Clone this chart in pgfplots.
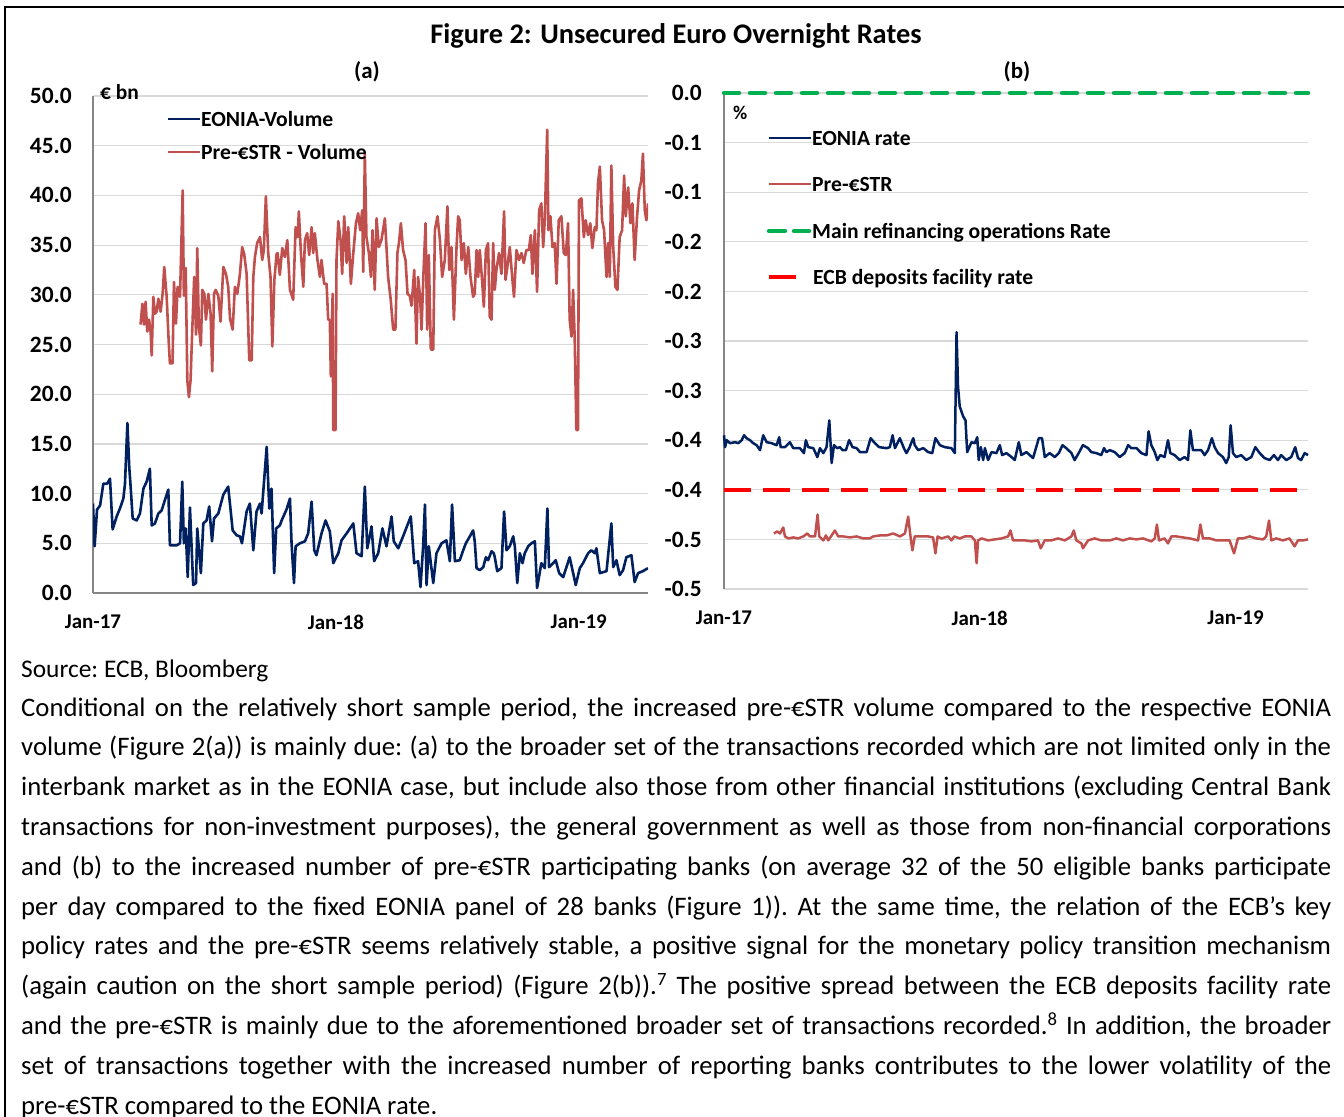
\documentclass[border=0pt]{standalone}
\usepackage{pgfplots}
\pgfplotsset{compat=1.18}
\usepackage{fontspec}
\setmainfont{Carlito}
\definecolor{eonia}{RGB}{0,32,96}
\definecolor{estr}{RGB}{192,80,77}
\definecolor{mro}{RGB}{0,176,80}
\definecolor{dfr}{RGB}{255,0,0}
\definecolor{gridc}{RGB}{217,217,217}
\definecolor{axisc}{RGB}{134,134,134}

\pgfplotstableread{
m v
0.00 9.0
0.08 4.7
0.20 8.4
0.35 8.8
0.51 11.0
0.70 11.0
0.84 11.5
0.97 6.4
1.17 7.7
1.33 8.5
1.50 9.5
1.58 11.0
1.70 17.1
1.79 12.7
1.86 10.7
1.96 7.5
2.16 7.3
2.32 8.0
2.49 10.5
2.65 11.2
2.81 12.5
2.90 6.8
3.06 7.0
3.23 8.0
3.39 8.3
3.56 9.4
3.72 10.4
3.80 4.8
4.13 4.8
4.30 5.0
4.41 11.2
4.49 5.0
4.58 6.5
4.68 1.6
4.79 8.6
4.95 0.8
5.09 1.0
5.15 6.5
5.33 2.0
5.45 7.0
5.61 7.3
5.74 8.7
5.88 5.2
5.98 7.5
6.19 8.0
6.44 9.9
6.68 10.7
6.90 6.3
7.10 5.8
7.26 5.7
7.36 5.0
7.59 8.2
7.75 9.0
7.92 4.3
8.08 8.2
8.25 9.0
8.33 8.0
8.58 14.7
8.71 8.5
8.82 10.5
8.95 2.0
9.05 6.5
9.23 6.8
9.32 7.3
9.56 8.4
9.73 9.5
9.81 5.0
9.93 1.0
10.01 4.7
10.22 5.0
10.47 5.2
10.63 6.0
10.80 9.2
10.93 4.3
11.04 3.8
11.29 6.0
11.49 7.3
11.70 6.2
11.87 3.0
12.12 4.0
12.28 5.3
12.53 6.0
12.86 7.0
13.02 4.0
13.27 3.7
13.43 10.7
13.55 4.5
13.68 5.8
13.76 6.7
13.89 3.2
14.09 4.0
14.30 6.5
14.50 4.7
14.75 7.7
14.86 5.2
15.08 4.5
15.32 5.7
15.70 7.7
15.87 3.0
16.06 3.2
16.18 0.6
16.31 4.7
16.40 8.9
16.48 0.8
16.59 4.7
16.81 1.0
16.97 4.0
17.22 5.0
17.46 5.3
17.63 3.2
17.74 8.9
17.88 3.2
18.12 3.3
18.29 4.3
18.42 5.0
18.62 5.7
18.78 6.3
18.86 5.2
18.95 2.5
19.11 2.3
19.28 2.6
19.41 3.6
19.52 3.3
19.69 4.2
19.80 4.0
19.85 3.6
19.97 2.2
20.18 2.5
20.31 8.2
20.43 4.3
20.59 4.7
20.76 5.7
20.84 4.7
20.96 1.0
21.09 4.0
21.22 3.0
21.33 4.0
21.50 4.7
21.66 5.0
21.83 5.2
21.94 0.5
22.15 3.0
22.32 2.5
22.45 8.5
22.53 2.6
22.73 3.0
22.86 3.3
23.03 2.0
23.23 1.6
23.55 3.6
23.85 0.8
24.05 2.5
24.21 3.0
24.46 4.0
24.62 4.3
24.79 4.0
24.87 4.5
25.04 2.0
25.37 2.2
25.61 7.0
25.70 2.6
25.86 3.3
26.02 1.8
26.19 2.3
26.35 3.6
26.60 3.8
26.76 1.1
26.93 2.0
27.17 2.2
27.42 2.5
}\eoniavol

\pgfplotstableread{
m v
2.35 27.0
2.44 29.1
2.52 27.0
2.60 29.3
2.68 26.3
2.77 27.5
2.85 26.2
2.90 23.9
2.98 29.8
3.06 28.1
3.14 28.3
3.23 29.6
3.34 28.3
3.44 30.1
3.52 32.8
3.64 29.8
3.74 25.3
3.80 23.1
3.93 23.1
4.00 31.3
4.10 27.1
4.18 30.8
4.30 29.8
4.43 40.5
4.49 29.9
4.58 32.7
4.66 21.4
4.74 19.7
4.82 21.4
4.91 26.8
5.00 31.8
5.09 26.0
5.15 34.7
5.23 26.8
5.33 24.9
5.40 30.5
5.50 30.1
5.58 27.5
5.70 30.1
5.81 28.1
5.89 22.3
5.98 30.1
6.06 30.5
6.19 29.9
6.30 27.3
6.44 32.8
6.57 32.1
6.68 30.8
6.77 27.6
6.90 26.5
7.01 30.8
7.13 30.1
7.26 32.1
7.37 34.8
7.47 34.1
7.59 32.1
7.72 23.4
7.84 23.4
7.92 31.8
8.00 33.8
8.11 35.2
8.25 35.8
8.36 33.5
8.44 34.5
8.54 39.9
8.66 34.1
8.77 31.8
8.86 24.8
8.96 31.5
9.07 34.1
9.12 34.2
9.23 32.0
9.35 34.7
9.48 33.8
9.60 35.5
9.73 30.5
9.89 29.5
10.01 36.8
10.11 35.8
10.17 38.4
10.27 34.3
10.39 30.8
10.47 35.5
10.58 36.2
10.68 34.0
10.80 36.8
10.88 34.2
10.96 36.2
11.09 33.5
11.21 31.8
11.29 33.5
11.42 31.1
11.54 31.1
11.62 27.5
11.70 27.5
11.75 21.8
11.84 30.1
11.87 16.4
11.98 16.4
12.03 33.5
12.12 37.4
12.23 35.5
12.31 32.1
12.41 37.9
12.53 33.2
12.61 36.8
12.74 31.1
12.86 34.2
12.99 37.2
13.10 38.2
13.20 36.5
13.30 38.5
13.35 32.3
13.43 44.1
13.51 35.8
13.63 34.2
13.73 31.8
13.81 36.5
13.92 30.5
14.01 37.7
14.12 34.8
14.25 35.5
14.42 37.7
14.58 31.8
14.71 29.5
14.83 26.5
14.94 26.5
15.04 34.2
15.12 35.3
15.21 37.2
15.32 34.5
15.44 33.5
15.54 30.1
15.65 29.9
15.74 28.9
15.87 32.5
15.98 25.1
16.06 31.8
16.16 29.8
16.23 26.5
16.33 32.3
16.43 37.2
16.51 26.5
16.59 34.0
16.69 24.5
16.81 24.5
16.89 36.5
17.02 37.9
17.14 35.5
17.25 31.8
17.38 33.5
17.51 38.9
17.60 32.5
17.71 34.8
17.83 27.5
17.96 34.8
18.04 37.9
18.12 37.5
18.21 33.5
18.32 35.2
18.42 32.1
18.54 34.8
18.65 31.8
18.78 29.8
18.86 30.1
18.95 34.5
19.03 31.8
19.11 34.5
19.21 31.8
19.31 28.8
19.41 34.5
19.52 35.2
19.60 27.8
19.69 27.5
19.77 35.2
19.85 30.5
19.93 32.5
20.06 34.2
20.18 32.1
20.31 38.4
20.38 31.5
20.47 32.8
20.59 34.8
20.71 31.8
20.80 29.8
20.92 34.5
21.05 33.5
21.17 34.2
21.28 33.2
21.41 34.5
21.53 34.5
21.63 36.0
21.71 32.1
21.83 36.5
21.94 30.3
22.04 38.5
22.15 39.2
22.24 34.8
22.32 37.5
22.44 46.6
22.50 36.5
22.60 37.9
22.70 34.8
22.81 35.2
22.90 31.1
23.01 37.5
23.14 37.9
23.26 34.2
23.36 34.0
23.47 37.2
23.55 27.5
23.64 25.8
23.72 30.5
23.80 25.5
23.88 16.4
23.96 16.4
24.01 39.5
24.13 39.7
24.25 35.8
24.34 37.5
24.46 36.0
24.57 37.2
24.67 34.7
24.79 36.8
24.87 36.5
24.95 41.2
25.04 42.9
25.15 37.5
25.25 36.5
25.37 31.8
25.45 35.2
25.53 31.8
25.61 43.0
25.70 34.8
25.81 30.8
25.91 30.5
26.02 35.8
26.14 36.5
26.24 42.0
26.32 37.9
26.44 40.8
26.55 37.2
26.65 39.2
26.76 33.5
26.88 37.9
26.98 40.5
27.09 41.5
27.17 44.2
27.26 38.5
27.34 37.5
27.42 39.2
}\estrvol

\pgfplotstableread{
m v
0.00 -0.345
0.05 -0.357
0.13 -0.350
0.28 -0.353
0.52 -0.352
0.67 -0.353
0.83 -0.350
0.94 -0.345
1.06 -0.348
1.22 -0.350
1.37 -0.353
1.53 -0.355
1.69 -0.360
1.84 -0.345
2.00 -0.352
2.23 -0.353
2.47 -0.355
2.59 -0.347
2.66 -0.357
2.86 -0.357
3.09 -0.352
3.25 -0.358
3.56 -0.358
3.75 -0.363
3.84 -0.350
3.95 -0.357
4.19 -0.358
4.38 -0.367
4.50 -0.358
4.66 -0.363
4.81 -0.357
4.94 -0.330
5.05 -0.373
5.16 -0.355
5.31 -0.358
5.44 -0.357
5.56 -0.360
5.72 -0.360
5.87 -0.350
6.03 -0.357
6.22 -0.358
6.38 -0.362
6.69 -0.362
6.88 -0.348
7.08 -0.353
7.28 -0.357
7.63 -0.358
7.78 -0.357
7.91 -0.345
8.02 -0.358
8.25 -0.348
8.44 -0.358
8.56 -0.363
8.69 -0.358
8.80 -0.352
8.88 -0.348
8.95 -0.355
9.11 -0.360
9.35 -0.358
9.58 -0.362
9.77 -0.363
9.92 -0.348
10.13 -0.355
10.36 -0.357
10.67 -0.358
10.83 -0.363
10.91 -0.241
10.98 -0.296
11.06 -0.316
11.22 -0.326
11.33 -0.330
11.41 -0.362
11.49 -0.358
11.61 -0.352
11.77 -0.353
11.88 -0.347
11.95 -0.370
12.05 -0.357
12.16 -0.370
12.24 -0.358
12.39 -0.370
12.55 -0.362
12.78 -0.363
12.94 -0.355
13.05 -0.365
13.25 -0.363
13.49 -0.367
13.64 -0.370
13.83 -0.352
13.95 -0.365
14.19 -0.362
14.50 -0.368
14.77 -0.348
14.92 -0.348
15.05 -0.367
15.28 -0.363
15.52 -0.367
15.71 -0.363
15.88 -0.355
16.06 -0.358
16.30 -0.363
16.45 -0.370
16.64 -0.363
16.84 -0.355
17.08 -0.358
17.23 -0.362
17.47 -0.363
17.70 -0.365
17.83 -0.358
17.94 -0.362
18.10 -0.360
18.33 -0.362
18.56 -0.367
18.80 -0.363
18.96 -0.355
19.11 -0.358
19.35 -0.358
19.58 -0.363
19.82 -0.365
19.92 -0.341
20.05 -0.355
20.21 -0.362
20.33 -0.370
20.47 -0.365
20.67 -0.367
20.83 -0.350
20.94 -0.363
21.14 -0.365
21.38 -0.370
21.61 -0.367
21.77 -0.370
21.88 -0.340
22.00 -0.360
22.24 -0.360
22.39 -0.360
22.55 -0.365
22.71 -0.360
22.89 -0.348
23.02 -0.357
23.18 -0.363
23.41 -0.367
23.56 -0.373
23.68 -0.367
23.77 -0.335
23.88 -0.363
24.03 -0.367
24.27 -0.365
24.50 -0.370
24.74 -0.367
24.93 -0.357
25.13 -0.363
25.36 -0.368
25.60 -0.370
25.80 -0.365
25.99 -0.370
26.14 -0.365
26.38 -0.370
26.61 -0.367
26.80 -0.357
26.93 -0.368
27.08 -0.370
27.24 -0.363
27.40 -0.365
}\eoniarate

\pgfplotstableread{
m v
2.34 -0.444
2.50 -0.442
2.63 -0.444
2.70 -0.441
2.78 -0.438
2.86 -0.447
3.02 -0.449
3.25 -0.448
3.48 -0.449
3.72 -0.447
3.91 -0.444
4.03 -0.447
4.27 -0.447
4.39 -0.425
4.47 -0.447
4.66 -0.451
4.78 -0.446
4.89 -0.451
5.05 -0.446
5.20 -0.441
5.36 -0.447
5.59 -0.447
5.91 -0.448
6.22 -0.447
6.53 -0.449
6.84 -0.449
7.00 -0.447
7.31 -0.446
7.63 -0.446
7.94 -0.444
8.25 -0.447
8.49 -0.444
8.64 -0.427
8.75 -0.447
8.84 -0.461
8.95 -0.447
9.27 -0.447
9.58 -0.447
9.81 -0.448
9.92 -0.464
10.02 -0.447
10.20 -0.449
10.52 -0.447
10.67 -0.451
10.80 -0.447
11.06 -0.449
11.30 -0.447
11.45 -0.447
11.61 -0.447
11.77 -0.451
11.85 -0.474
11.92 -0.451
12.08 -0.449
12.39 -0.451
12.70 -0.450
13.02 -0.449
13.33 -0.447
13.44 -0.441
13.56 -0.451
13.80 -0.451
14.11 -0.451
14.42 -0.452
14.73 -0.451
14.86 -0.459
15.05 -0.451
15.36 -0.451
15.67 -0.449
15.99 -0.451
16.30 -0.447
16.41 -0.441
16.53 -0.451
16.77 -0.454
16.84 -0.459
17.08 -0.451
17.39 -0.449
17.70 -0.451
18.10 -0.451
18.41 -0.449
18.72 -0.451
19.03 -0.449
19.35 -0.450
19.66 -0.449
20.05 -0.452
20.21 -0.449
20.31 -0.435
20.41 -0.451
20.67 -0.449
20.83 -0.454
20.99 -0.447
21.22 -0.447
21.53 -0.448
21.85 -0.449
22.24 -0.451
22.35 -0.435
22.47 -0.449
22.79 -0.449
23.10 -0.451
23.41 -0.451
23.72 -0.451
23.93 -0.464
24.11 -0.449
24.35 -0.449
24.66 -0.447
24.97 -0.449
25.29 -0.450
25.44 -0.447
25.57 -0.431
25.68 -0.451
25.91 -0.449
26.22 -0.451
26.53 -0.449
26.77 -0.457
26.93 -0.451
27.17 -0.451
27.40 -0.450
}\estrrate

\newcommand{\pline}[2]{\node[anchor=base west, inner sep=0pt] at (21,#1) {\fontsize{26.8}{30}\selectfont\frenchspacing\makebox[1310bp][s]{#2}};}

\begin{document}
\begin{tikzpicture}
\useasboundingbox (0,0) rectangle (1344bp,-1117bp);
\begin{scope}[x=1bp,y=-1bp]
\draw[line width=2bp] (5,1140) -- (5,7) -- (1360,7);
\end{scope}

% Panel (a)
\begin{axis}[
  at={(93bp,-593bp)}, anchor=south west,
  scale only axis, width=555bp, height=497bp,
  xmin=0, xmax=27.42, ymin=0, ymax=50,
  axis x line*=bottom, axis y line*=left,
  axis line style={draw=axisc, line width=1.3bp},
  major tick length=0pt,
  ytick={0,5,...,50},
  yticklabels={0.0,5.0,10.0,15.0,20.0,25.0,30.0,35.0,40.0,45.0,50.0},
  xtick={0,12,24},
  xticklabels={Jan-17,Jan-18,Jan-19},
  ymajorgrids, major grid style={draw=gridc, line width=1.2bp},
  yticklabel style={font=\fontsize{23.5}{27}\selectfont\bfseries, inner sep=0pt, anchor=east, xshift=-21bp},
  xticklabel style={font=\fontsize{21}{25}\selectfont\bfseries, inner sep=0pt, anchor=north, yshift=-22bp},
]
\addplot[eonia, line width=2.6bp, line join=round] table[x=m,y=v] {\eoniavol};
\addplot[estr, line width=2.6bp, line join=round] table[x=m,y=v] {\estrvol};
\end{axis}

% Panel (b)
\begin{axis}[
  at={(724bp,-589bp)}, anchor=south west,
  scale only axis, width=584bp, height=496bp,
  xmin=0, xmax=27.4, ymin=-0.5, ymax=0,
  clip=false,
  axis x line*=bottom, axis y line*=left,
  y axis line style={draw=axisc, line width=1.3bp},
  x axis line style={draw=gridc, line width=1.2bp},
  major tick length=0pt,
  ytick={-0.5,-0.45,...,0.01},
  yticklabels={-0.5,-0.5,-0.4,-0.4,-0.3,-0.3,-0.2,-0.2,-0.1,-0.1,0.0},
  xtick={0,12,24},
  xticklabels={Jan-17,Jan-18,Jan-19},
  ymajorgrids, major grid style={draw=gridc, line width=1.2bp},
  yticklabel style={font=\fontsize{23.5}{27}\selectfont\bfseries, inner sep=0pt, anchor=east, xshift=-22bp},
  xticklabel style={font=\fontsize{21}{25}\selectfont\bfseries, inner sep=0pt, anchor=north, yshift=-22bp},
]
\addplot[mro, line width=4.5bp, line cap=round, dash pattern=on 15bp off 11bp] coordinates {(0,0) (27.4,0)};
\addplot[dfr, line width=4bp, dash pattern=on 27bp off 12bp] coordinates {(0,-0.4) (27.4,-0.4)};
\addplot[eonia, line width=2.5bp, line join=round] table[x=m,y=v] {\eoniarate};
\addplot[estr, line width=2.5bp, line join=round] table[x=m,y=v] {\estrrate};
\end{axis}

\begin{scope}[x=1bp,y=-1bp]
% titles
\node[anchor=base, inner sep=0pt, font=\fontsize{28.5}{32}\selectfont\bfseries] at (676,43) {Figure 2: Unsecured Euro Overnight Rates};
\node[anchor=center, inner sep=0pt, font=\fontsize{23}{27}\selectfont\bfseries] at (367,72) {(a)};
\node[anchor=center, inner sep=0pt, font=\fontsize{23}{27}\selectfont\bfseries] at (1017,72) {(b)};
\node[anchor=base west, inner sep=0pt, font=\fontsize{21.5}{25}\selectfont\bfseries] at (100,99) {€ bn};
\node[anchor=base west, inner sep=0pt, font=\fontsize{19.5}{23}\selectfont\bfseries] at (733,119) {\%};
% legend (a)
\draw[eonia, line width=2.6bp] (168,119) -- (200,119);
\node[anchor=base west, inner sep=0pt, font=\fontsize{21.7}{25}\selectfont\bfseries] at (201,126) {EONIA-Volume};
\draw[estr, line width=2.6bp] (168,152) -- (200,152);
\node[anchor=base west, inner sep=0pt, font=\fontsize{21.7}{25}\selectfont\bfseries] at (201,159) {Pre-€STR - Volume};
% legend (b)
\draw[eonia, line width=2.5bp] (769,138) -- (811,138);
\node[anchor=base west, inner sep=0pt, font=\fontsize{21.7}{25}\selectfont\bfseries] at (812,145) {EONIA rate};
\draw[estr, line width=2.5bp] (769,184) -- (811,184);
\node[anchor=base west, inner sep=0pt, font=\fontsize{21.7}{25}\selectfont\bfseries] at (812,191) {Pre-€STR};
\draw[mro, line width=4.5bp, line cap=round] (769,231) -- (785,231);
\draw[mro, line width=4.5bp, line cap=round] (794,231) -- (809,231);
\node[anchor=base west, inner sep=0pt, font=\fontsize{21.7}{25}\selectfont\bfseries] at (812,238) {Main refinancing operations Rate};
\draw[dfr, line width=4bp] (769,277) -- (796,277);
\node[anchor=base west, inner sep=0pt, font=\fontsize{21.7}{25}\selectfont\bfseries] at (813,284) {ECB deposits facility rate};
% source and text
\node[anchor=base west, inner sep=0pt, font=\fontsize{25.5}{30}\selectfont\frenchspacing] at (21,677) {Source: ECB, Bloomberg};
\pline{716}{Conditional on the relatively short sample period, the increased pre-€STR volume compared to the respective EONIA}
\pline{755.8}{volume (Figure 2(a)) is mainly due: (a) to the broader set of the transactions recorded which are not limited only in the}
\pline{795.6}{interbank market as in the EONIA case, but include also those from other financial institutions (excluding Central Bank}
\pline{835.4}{transactions for non-investment purposes), the general government as well as those from non-financial corporations}
\pline{875.2}{and (b) to the increased number of pre-€STR participating banks (on average 32 of the 50 eligible banks participate}
\pline{915}{per day compared to the fixed EONIA panel of 28 banks (Figure 1)). At the same time, the relation of the ECB’s key}
\pline{954.8}{policy rates and the pre-€STR seems relatively stable, a positive signal for the monetary policy transition mechanism}
\pline{994.6}{(again caution on the short sample period) (Figure 2(b)).\textsuperscript{7} The positive spread between the ECB deposits facility rate}
\pline{1034.4}{and the pre-€STR is mainly due to the aforementioned broader set of transactions recorded.\textsuperscript{8} In addition, the broader}
\pline{1074.2}{set of transactions together with the increased number of reporting banks contributes to the lower volatility of the}
\node[anchor=base west, inner sep=0pt, font=\fontsize{26.8}{30}\selectfont\frenchspacing] at (21,1114) {pre-€STR compared to the EONIA rate.};
\end{scope}
\end{tikzpicture}
\end{document}
